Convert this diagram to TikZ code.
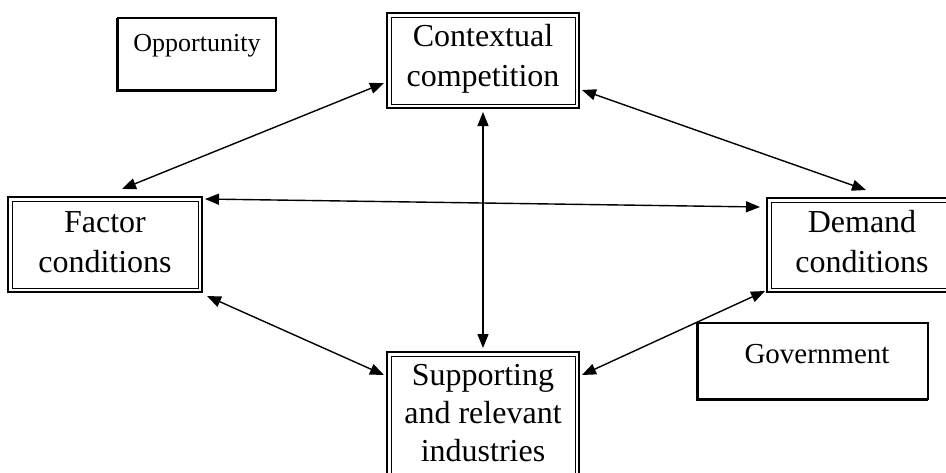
\documentclass[tikz,border=0pt]{standalone}
\usepackage{fontspec}
\setmainfont{Liberation Serif}
\usetikzlibrary{arrows.meta}
\begin{document}
\begin{tikzpicture}[x=1pt,y=-1pt,
  mainbox/.style={draw,line width=2.6pt,rectangle,inner sep=0pt,outer sep=0pt},
  simplebox/.style={draw,line width=1.6pt,rectangle,inner sep=0pt,outer sep=0pt},
  shade/.style={line width=1.2pt},
  inner/.style={line width=0.8pt},
  txt/.style={anchor=base,inner sep=0pt,font=\fontsize{32}{40}\selectfont},
  link/.style={line width=1.4pt,{Triangle[length=14pt,width=11pt]}-{Triangle[length=14pt,width=11pt]}}
]
\useasboundingbox (0,0) rectangle (946,472);
\clip (0,0) rectangle (946,472);
% boxes
\node[simplebox,minimum width=158pt,minimum height=72pt] (opp) at (197,54) {};
\draw[shade] ([xshift=-1pt]opp.north west) -- ([xshift=-1pt,yshift=-1pt]opp.south west) -- ([yshift=-1pt]opp.south east);
\node[anchor=base,inner sep=0pt,font=\fontsize{26}{30}\selectfont] (oppt) at (197,51) {Opportunity};

\node[mainbox,minimum width=192pt,minimum height=95pt] (ctx) at (483,60.5) {};
\draw[inner] ([xshift=4pt,yshift=-4pt]ctx.north west) rectangle ([xshift=-4pt,yshift=4pt]ctx.south east);
\node[txt] (ctx1) at (483,46) {Contextual};
\node[txt] (ctx2) at (483,86) {competition};

\node[mainbox,minimum width=194pt,minimum height=95pt] (fac) at (105,244.5) {};
\draw[inner] ([xshift=4pt,yshift=-4pt]fac.north west) rectangle ([xshift=-4pt,yshift=4pt]fac.south east);
\node[txt] (fac1) at (105,232) {Factor};
\node[txt] (fac2) at (105,272) {conditions};

\node[mainbox,minimum width=193pt,minimum height=94pt] (dem) at (863.5,245) {};
\draw[inner] ([xshift=4pt,yshift=-4pt]dem.north west) rectangle ([xshift=-4pt,yshift=4pt]dem.south east);
\node[txt] (dem1) at (862,232) {Demand};
\node[txt] (dem2) at (862,272) {conditions};

\node[mainbox,minimum width=192pt,minimum height=154pt] (sup) at (483,429) {};
\draw[inner] ([xshift=4pt,yshift=-4pt]sup.north west) rectangle ([xshift=-4pt,yshift=4pt]sup.south east);
\node[txt] (sup1) at (483,385) {Supporting};
\node[txt] (sup2) at (483,423) {and relevant};
\node[txt] (sup3) at (483,461) {industries};

\node[simplebox,minimum width=230pt,minimum height=76pt] (gov) at (813,361) {};
\draw[shade] ([xshift=-1pt]gov.north west) -- ([xshift=-1pt,yshift=-1pt]gov.south west) -- ([yshift=-1pt]gov.south east);
\node[anchor=base,inner sep=0pt,font=\fontsize{29}{34}\selectfont] (govt) at (817,363) {Government};

% connectors
\draw[link] ([xshift=-3pt,yshift=25pt]ctx.south west) -- ([xshift=17pt,yshift=8pt]fac.north);
\draw[link] ([xshift=3pt,yshift=18pt]ctx.south east) -- ([xshift=2.5pt,yshift=8pt]dem.north);
\draw[link] ([yshift=-4pt]ctx.south) -- ([yshift=4pt]sup.north);
\draw[link] ([xshift=3pt,yshift=-2pt]fac.north east) -- ([xshift=-7pt,yshift=-9pt]dem.north west);
\draw[link] ([xshift=5pt,yshift=-4pt]fac.south east) -- ([xshift=-3pt,yshift=-23pt]sup.north west);
\draw[link] ([xshift=-2pt,yshift=1pt]dem.south west) -- ([xshift=3pt,yshift=-23pt]sup.north east);
\end{tikzpicture}
\end{document}
